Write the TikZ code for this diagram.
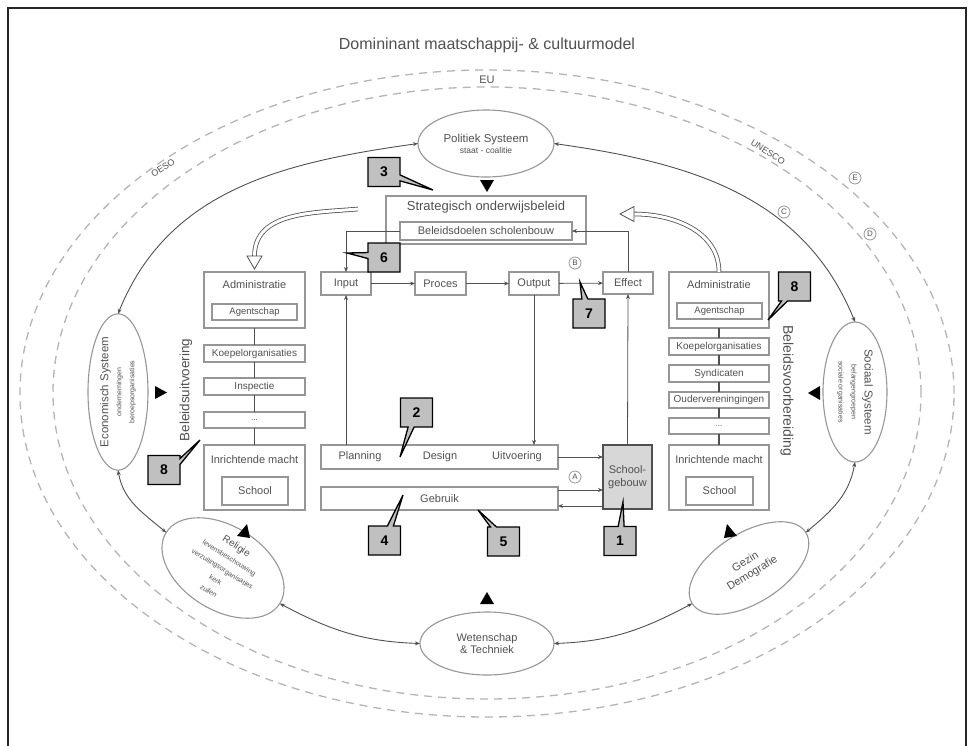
\documentclass[tikz,border=0pt]{standalone}
\usepackage{fontspec}
\setmainfont{Liberation Sans}
\usetikzlibrary{shapes.geometric,shapes.callouts,arrows.meta,calc}
\definecolor{ink}{RGB}{80,80,80}
\definecolor{boxline}{RGB}{150,150,150}
\definecolor{ringdash}{RGB}{180,180,180}
\definecolor{calloutgray}{RGB}{192,192,192}
\definecolor{buildgray}{RGB}{215,215,215}
\newcommand\tsize[2]{\fontsize{#1}{#2}\selectfont}

\begin{document}
\begin{tikzpicture}[x=1pt,y=1pt,
  every node/.style={inner sep=0pt, outer sep=0pt},
  txt/.style={text=ink, font=\tsize{11}{13}},
  box/.style={rectangle, draw=boxline, line width=1.1pt},
  sys/.style={ellipse, draw=boxline, line width=1.1pt, text=ink, align=center},
  flow/.style={draw=ink, line width=0.8pt, -{Stealth[length=5pt,width=4pt]}},
  ring/.style={draw=ink, line width=0.9pt, {Stealth[length=5pt,width=4pt]}-{Stealth[length=5pt,width=4pt]}},
  guide/.style={draw=ringdash, line width=1.3pt, dash pattern=on 8pt off 6pt},
  tag/.style={rectangle callout, callout pointer width=6pt, fill=calloutgray, draw=black, line width=1.3pt, minimum width=32pt, minimum height=29pt, font=\tsize{14}{16}\bfseries},
  letter/.style={circle, draw=boxline, line width=0.8pt, minimum size=12pt, text=ink, font=\tsize{8}{8}},
  hollow/.style={draw=ink, line width=0.8pt, double=white, double distance=3pt},
  chain/.style={draw=ink, line width=1.3pt},
  headfill/.style={draw=ink, line width=0.8pt, fill=white, line join=miter},
]
\useasboundingbox (0,0) rectangle (972,-745);

% page frame
\draw[line width=1.2pt, black!85] (8,-760) -- (8,-8) -- (966,-8) -- (966,-760);

% title and outer organisations
\node[txt, font=\tsize{16}{18}] (title) at (487,-45) {Domininant maatschappij- \& cultuurmodel};
\draw[guide] (487,-393.5) ellipse [x radius=467, y radius=323.5];
\draw[guide] (487,-393) ellipse [x radius=434, y radius=306];
\node[txt] (eu) at (487,-80) {EU};
\node[txt, font=\tsize{9}{10}, rotate=32] (oeso) at (163,-168) {OESO};
\node[txt, font=\tsize{9}{10}, rotate=-33] (unesco) at (768,-152) {UNESCO};

% societal systems
\node[sys, minimum width=136pt, minimum height=67pt] (pol) at (486,-143.5)
  {\tsize{11.5}{13}Politiek Systeem\\[-1pt]\tsize{8.5}{10}staat - coalitie};
\node[sys, rotate=90, minimum width=140pt, minimum height=60pt] (eco) at (118,-392)
  {\tsize{11.5}{13}Economisch Systeem\\[1pt]\tsize{7}{8}ondernemingen\\[1pt]\tsize{7}{8}beroepsorganisaties};
\node[sys, rotate=-90, minimum width=140pt, minimum height=64pt] (soc) at (855,-392)
  {\tsize{11.5}{13}Sociaal Systeem\\[1pt]\tsize{7}{8}belangengroepen\\[1pt]\tsize{7}{8}sociale organisaties};
\node[sys, rotate=-32, minimum width=134pt, minimum height=70pt] (rel) at (223,-568)
  {\tsize{10}{11}Religie\\[1pt]\tsize{7}{8}levensbeschouwing\\[1pt]\tsize{7}{8}verzuilingsorganisaties\\[1pt]\tsize{7}{8}kerk\\[1pt]\tsize{7}{8}zuilen};
\node[sys, rotate=32, minimum width=134pt, minimum height=70pt] (gez) at (749,-568)
  {\tsize{11}{14}Gezin\\[1pt]\tsize{11}{14}Demografie};
\node[sys, minimum width=134pt, minimum height=63pt] (wet) at (487,-643.5)
  {\tsize{11}{13}Wetenschap\\\tsize{11}{13}\& Techniek};

% ring of mutual influence
\draw[ring] (pol.east) to[out=-8, in=112] (soc.west);
\draw[ring] (pol.west) to[out=188, in=68] (eco.east);
\draw[ring] (eco.west) to[out=-80, in=140] (rel.west);
\draw[ring] (rel.east) to[out=-28, in=178] (wet.west);
\draw[ring] (wet.east) to[out=2, in=208] (gez.west);
\draw[ring] (soc.east) to[out=-100, in=40] (gez.east);

% pressure marks towards the school system
\fill[black] (480,-180) -- (494,-180) -- (487,-192) -- cycle;
\fill[black] (155,-386) -- (155,-399) -- (167,-392.5) -- cycle;
\fill[black] (820,-386) -- (820,-400) -- (808,-393) -- cycle;
\fill[black] (480,-604) -- (494,-604) -- (487,-592) -- cycle;
\fill[black] (237,-536) -- (247,-524) -- (250,-538) -- cycle;
\fill[black] (737,-536) -- (727,-524) -- (724,-538) -- cycle;

% circled markers
\node[letter] (la) at (575,-477) {A};
\node[letter] (lb) at (575,-263) {B};
\node[letter] (lc) at (784,-212) {C};
\node[letter] (ld) at (870,-234) {D};
\node[letter] (le) at (855,-178) {E};

% strategic policy
\node[box, minimum width=200pt, minimum height=48pt] (strat) at (486,-220) {};
\node[txt, font=\tsize{13}{15}] (strattxt) at (486,-207) {Strategisch onderwijsbeleid};
\node[box, minimum width=172pt, minimum height=18pt, txt] (doel) at (486,-231) {Beleidsdoelen scholenbouw};

% policy cycle
\node[box, txt, minimum width=50pt, minimum height=23pt] (input) at (346,-283.5) {Input};
\node[box, txt, minimum width=51pt, minimum height=23pt] (proces) at (440.5,-283.5) {Proces};
\node[box, txt, minimum width=50pt, minimum height=23pt] (output) at (534,-283.5) {Output};
\node[box, txt, minimum width=50pt, minimum height=22pt] (effect) at (628,-283) {Effect};
\draw[flow] (input) -- (proces);
\draw[flow] (proces) -- (output);
\draw[flow] (output) -- (effect);
\draw[flow] (effect.north) |- (doel.east);
\draw[flow] (doel.west) -| (input.north);

% building process
\node[box, minimum width=237pt, minimum height=24pt] (pdu) at (439.5,-457) {};
\node[txt] (plan) at (360,-457) {Planning};
\node[txt] (design) at (440,-457) {Design};
\node[txt] (uitv) at (517,-457) {Uitvoering};
\node[box, txt, minimum width=237pt, minimum height=23pt] (gebruik) at (439.5,-498.5) {Gebruik};
\node[box, draw=ink, fill=buildgray, txt, align=center, minimum width=49pt, minimum height=64pt] (school) at (627.5,-477) {School-\\gebouw};
\draw[flow] (input.south |- pdu.north) -- (input.south);
\draw[flow] (output.south) -- (output.south |- pdu.north);
\draw[flow] (school.north) -- (effect.south);
\draw[flow] (pdu.east) -- (pdu.east -| school.west);
\draw[flow] ([yshift=8.5pt]gebruik.east) -- ([yshift=8.5pt]gebruik.east -| school.west);
\draw[flow] ([yshift=-7.5pt]gebruik.east -| school.west) -- ([yshift=-7.5pt]gebruik.east);

% execution column
\node[box, minimum width=101pt, minimum height=56pt] (admL) at (254.5,-300) {};
\node[txt] (admLt) at (254.5,-285) {Administratie};
\node[box, txt, font=\tsize{9.5}{11}, minimum width=85pt, minimum height=16pt] (ageL) at (254.5,-312) {Agentschap};
\node[box, txt, font=\tsize{10}{11}, minimum width=101pt, minimum height=17pt] (koeL) at (254.5,-353.5) {Koepelorganisaties};
\node[box, txt, font=\tsize{10}{11}, minimum width=101pt, minimum height=17pt] (insL) at (254.5,-386.5) {Inspectie};
\node[box, txt, font=\tsize{8}{9}, minimum width=101pt, minimum height=16pt] (dotL) at (254.5,-420) {...};
\node[box, minimum width=101pt, minimum height=65pt] (inrL) at (254.5,-477.5) {};
\node[txt] (inrLt) at (254.5,-460) {Inrichtende macht};
\node[box, txt, minimum width=66pt, minimum height=28pt] (schL) at (255,-491) {School};
\draw[chain] (admL) -- (koeL);
\draw[chain] (koeL) -- (insL);
\draw[chain] (insL) -- (dotL);
\draw[chain] (dotL) -- (inrL);
\node[txt, font=\tsize{13.5}{15}, rotate=90] (uitvoering) at (186,-390) {Beleidsuitvoering};

% preparation column
\node[box, minimum width=100pt, minimum height=56pt] (admR) at (719,-300) {};
\node[txt] (admRt) at (719,-285) {Administratie};
\node[box, txt, font=\tsize{9.5}{11}, minimum width=85pt, minimum height=16pt] (ageR) at (719.5,-311) {Agentschap};
\node[box, txt, font=\tsize{10}{11}, minimum width=100pt, minimum height=17pt] (koeR) at (719,-346.5) {Koepelorganisaties};
\node[box, txt, font=\tsize{10}{11}, minimum width=100pt, minimum height=17pt] (synR) at (719,-373.5) {Syndicaten};
\node[box, txt, font=\tsize{10}{11}, minimum width=100pt, minimum height=16pt] (oudR) at (719,-400) {Oudervereningingen};
\node[box, txt, font=\tsize{8}{9}, minimum width=100pt, minimum height=16pt] (dotR) at (719,-426) {...};
\node[box, minimum width=100pt, minimum height=65pt] (inrR) at (719,-477.5) {};
\node[txt] (inrRt) at (719,-460) {Inrichtende macht};
\node[box, txt, minimum width=67pt, minimum height=28pt] (schR) at (719.5,-491) {School};
\draw[chain] (admR) -- (koeR);
\draw[chain] (koeR) -- (synR);
\draw[chain] (synR) -- (oudR);
\draw[chain] (oudR) -- (dotR);
\draw[chain] (dotR) -- (inrR);
\node[txt, font=\tsize{14}{15}, rotate=-90] (voorber) at (787,-391) {Beleidsvoorbereiding};

% policy flows into both columns
\coordinate (hl) at (358,-209);
\draw[hollow] (hl) to[out=185, in=90] ([yshift=16pt]admL.north);
\draw[headfill] ([shift={(-7.5pt,16pt)}]admL.north) -- ([shift={(7.5pt,16pt)}]admL.north) -- ([yshift=3pt]admL.north) -- cycle;
\coordinate (hr) at (634,-214);
\draw[hollow] (admR.north) to[out=90, in=0] (hr);
\draw[headfill] ([yshift=7.5pt]hr) -- ([yshift=-7.5pt]hr) -- ([xshift=-14pt]hr) -- cycle;

% numbered callouts
\node[tag, callout absolute pointer={(623,-502)}] (c1) at (620,-541) {1};
\node[tag, callout absolute pointer={(400,-457)}] (c2) at (416.5,-412.5) {2};
\node[tag, callout absolute pointer={(433,-190)}] (c3) at (384,-172) {3};
\node[tag, callout absolute pointer={(403,-495)}] (c4) at (384.5,-540.5) {4};
\node[tag, callout absolute pointer={(478,-510)}] (c5) at (503.5,-541.5) {5};
\node[tag, callout absolute pointer={(347,-253)}] (c6) at (384,-257.5) {6};
\node[tag, callout absolute pointer={(580,-282)}] (c7) at (589,-313.5) {7};
\node[tag, callout absolute pointer={(200,-440)}] (c8l) at (164,-470) {8};
\node[tag, callout absolute pointer={(768,-320)}] (c8r) at (794.5,-286.5) {8};
\end{tikzpicture}
\end{document}
